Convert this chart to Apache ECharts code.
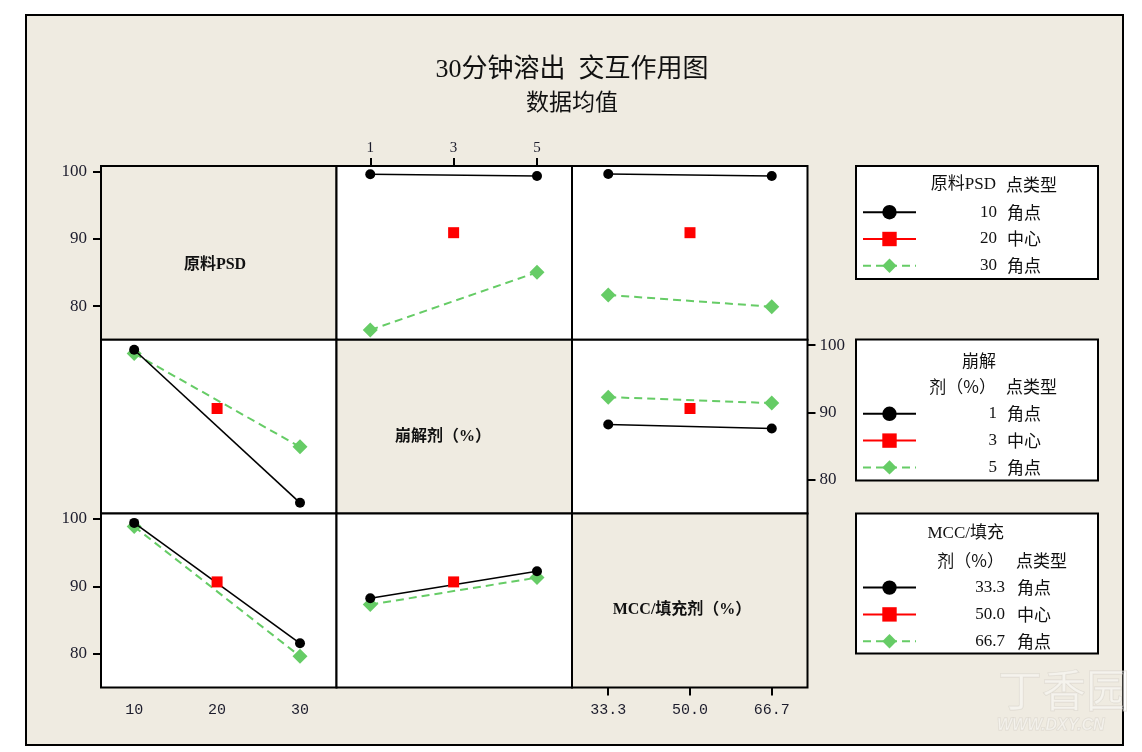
<!DOCTYPE html>
<html><head><meta charset="utf-8">
<script src="https://cdn.jsdelivr.net/npm/echarts@6/dist/echarts.min.js"></script>
<style>html,body{margin:0;padding:0;background:#fff}#c{width:1142px;height:752px}</style>
</head><body><div id="c"></div>
<script>
// ---------- data ----------
const titleText = '30分钟溶出  交互作用图';
const subtitleText = '数据均值';
const factorNames = ['原料PSD', '崩解剂（%）', 'MCC/填充剂（%）'];
const psdLevels = [10, 20, 30];
const disLevels = [1, 3, 5];
const mccLevels = [33.3, 50.0, 66.7];
const pointTypes = ['角点', '中心', '角点'];
const psdTicks = [10, 20, 30];
const disTicks = [1, 3, 5];
const mccTicks = [33.3, 50.0, 66.7];
const yTicks = [80, 90, 100];

// Row 1: lines = 原料PSD levels (10 low, 30 high)
const r1c2Low = [99.57, 99.32];   // vs 崩解剂 1, 5
const r1c2High = [76.45, 85.02];
const r1c3Low = [99.61, 99.32];   // vs MCC 33.3, 66.7
const r1c3High = [81.65, 79.91];
const r1Center = 90.9;
// Row 2: lines = 崩解剂 levels (1 low, 5 high)
const r2c1Low = [99.32, 76.6];    // vs PSD 10, 30
const r2c1High = [98.77, 84.91];
const r2c3Low = [88.23, 87.63];   // vs MCC
const r2c3High = [92.29, 91.4];
const r2Center = 90.6;
// Row 3: lines = MCC levels (33.3 low, 66.7 high)
const r3c1Low = [99.42, 81.55];   // vs PSD
const r3c1High = [98.87, 79.62];
const r3c2Low = [88.23, 92.23];   // vs 崩解剂
const r3c2High = [87.29, 91.3];
const r3Center = 90.66;

// ---------- layout / style ----------
const BEIGE = '#EFEBE1';
const GREEN = '#66CC66';
const SERIF = '"Liberation Serif","Noto Sans CJK SC"';
const CJK = '"Noto Sans CJK SC"';
const colLeft = [101, 336.5, 572], colW = 235.5;
const rowTop = [166, 339.8, 513.6], rowH = 173.8;
const xRange = [[6, 34.4], [0.19, 5.84], [25.9, 74.0]];
const yMin = 75, yMax = 100.8;
const levels = [psdLevels, disLevels, mccLevels];
const ticks = [psdTicks, disTicks, mccTicks];
const levelNames = [
  psdLevels.map(String),
  disLevels.map(String),
  mccLevels.map(v => v.toFixed(1))
];
const panels = {
  '01': [r1c2Low, r1c2High, r1Center],
  '02': [r1c3Low, r1c3High, r1Center],
  '10': [r2c1Low, r2c1High, r2Center],
  '12': [r2c3Low, r2c3High, r2Center],
  '20': [r3c1Low, r3c1High, r3Center],
  '21': [r3c2Low, r3c2High, r3Center]
};

const grid = [], xAxis = [], yAxis = [], series = [];
const tickStyle = {length: 8, lineStyle: {color: '#000', width: 2}};
for (let i = 0; i < 3; i++) {
  for (let j = 0; j < 3; j++) {
    const k = i * 3 + j;
    grid.push({left: colLeft[j], top: rowTop[i], width: colW, height: rowH,
      show: true, backgroundColor: i === j ? BEIGE : '#fff',
      borderColor: '#000', borderWidth: 2, z: 1});
    const xTop = (i === 0 && j === 1);
    const xLab = xTop || (i === 2 && j !== 1);
    const xTick = xTop || (i === 2 && j === 2);
    xAxis.push({type: 'value', gridIndex: k, min: xRange[j][0], max: xRange[j][1],
      position: xTop ? 'top' : 'bottom',
      axisLine: {show: false}, splitLine: {show: false},
      axisTick: Object.assign({show: xTick, customValues: ticks[j]}, tickStyle),
      axisLabel: {show: xLab, customValues: ticks[j], margin: xTop ? 10 : 15,
        color: '#1c1c2c', fontSize: 15,
        fontFamily: j === 1 ? SERIF : '"Liberation Mono"',
        formatter: v => j === 2 ? v.toFixed(1) : String(v)}
    });
    const yRight = (i === 1 && j === 2);
    const yLab = yRight || ((i === 0 || i === 2) && j === 0);
    yAxis.push({type: 'value', gridIndex: k, min: yMin, max: yMax,
      position: yRight ? 'right' : 'left',
      axisLine: {show: false}, splitLine: {show: false},
      axisTick: Object.assign({show: yLab, customValues: yTicks}, tickStyle),
      axisLabel: {show: yLab, customValues: yTicks, margin: yRight ? 12 : 14,
        color: '#1c1c2c', fontSize: 17, fontFamily: SERIF}
    });
    const p = panels['' + i + j];
    if (!p) continue;
    const xl = levels[j];
    const names = levelNames[i];
    series.push({type: 'line', name: names[0], xAxisIndex: k, yAxisIndex: k,
      data: [[xl[0], p[0][0]], [xl[2], p[0][1]]],
      symbol: 'circle', symbolSize: 10, z: 4,
      itemStyle: {color: '#000'}, lineStyle: {color: '#000', width: 1.6}});
    series.push({type: 'line', name: names[1], xAxisIndex: k, yAxisIndex: k,
      data: [[xl[1], p[2]]],
      symbol: 'rect', symbolSize: 11, z: 4,
      itemStyle: {color: '#FF0000'}, lineStyle: {color: '#FF0000', width: 2}});
    series.push({type: 'line', name: names[2], xAxisIndex: k, yAxisIndex: k,
      data: [[xl[0], p[1][0]], [xl[2], p[1][1]]],
      symbol: 'diamond', symbolSize: 15, z: 3,
      itemStyle: {color: GREEN}, lineStyle: {color: GREEN, width: 2, type: [8, 5]}});
  }
}

// legends (values right-aligned by measuring their width)
const mctx = document.createElement('canvas').getContext('2d');
mctx.font = '17px "Liberation Serif"';
const legTop = [202.2, 403.8, 577.6];
const legValW = [76, 76, 84];
const legPad = [10, 10, 12];
const legend = [0, 1, 2].map(i => {
  const rich = {t: {padding: [0, 0, 0, legPad[i]], fontSize: 17, lineHeight: 20, fontFamily: CJK, color: '#111'}};
  levelNames[i].forEach((name, n) => {
    const w = mctx.measureText(name).width;
    rich['v' + n] = {padding: [0, 0, 0, Math.max(0, legValW[i] - w)],
      fontSize: 17, lineHeight: 20, fontFamily: SERIF, color: '#111'};
  });
  return {
    orient: 'vertical', left: 862, top: legTop[i], padding: 0,
    itemWidth: 53, itemHeight: 18, itemGap: 6.8, selectedMode: false, z: 6,
    data: levelNames[i],
    formatter: name => {
      const n = levelNames[i].indexOf(name);
      return '{v' + n + '|' + name + '}{t|' + pointTypes[n] + '}';
    },
    textStyle: {fontSize: 17, lineHeight: 20, color: '#111', fontFamily: SERIF, rich: rich}
  };
});

function txt(text, x, y, font, align) {
  return {type: 'text', z: 20, style: {text: text, x: x, y: y,
    font: font, fill: '#111', align: align || 'center', verticalAlign: 'middle'}};
}
const F17 = '17px ' + SERIF, C17 = '17px ' + CJK, DIAG = 'bold 16px ' + SERIF;
const graphic = [
  {type: 'rect', z: -10, shape: {x: 26, y: 15, width: 1097, height: 730},
    style: {fill: BEIGE, stroke: '#000', lineWidth: 2}},
  txt(titleText, 572, 70, '26px ' + SERIF),
  txt(subtitleText, 572, 101, '23px ' + CJK),
  txt(factorNames[0], 215, 265, DIAG),
  txt(factorNames[1], 443, 437, DIAG),
  txt(factorNames[2], 682, 610, DIAG),
  // legend boxes
  {type: 'rect', z: 2, shape: {x: 856, y: 166, width: 242, height: 113}, style: {fill: '#fff', stroke: '#000', lineWidth: 2}},
  {type: 'rect', z: 2, shape: {x: 856, y: 339.5, width: 242, height: 141}, style: {fill: '#fff', stroke: '#000', lineWidth: 2}},
  {type: 'rect', z: 2, shape: {x: 856, y: 513.5, width: 242, height: 140}, style: {fill: '#fff', stroke: '#000', lineWidth: 2}},
  txt('原料PSD', 996, 185, F17, 'right'),
  txt('点类型', 1006, 185, C17, 'left'),
  txt('崩解', 996, 361, C17, 'right'),
  txt('剂（%）', 996, 387, C17, 'right'),
  txt('点类型', 1006, 387, C17, 'left'),
  txt('MCC/填充', 1004, 534, F17, 'right'),
  txt('剂（%）', 1004, 561, C17, 'right'),
  txt('点类型', 1016, 561, C17, 'left'),
  // watermark
  {type: 'text', z: 0, style: {text: '丁香园', x: 998, y: 690, font: '44px ' + CJK,
    fill: 'rgba(255,255,255,0.4)', stroke: 'rgba(210,205,195,0.6)', lineWidth: 1,
    align: 'left', verticalAlign: 'middle'}},
  {type: 'text', z: 0, style: {text: 'WWW.DXY.CN', x: 997, y: 726, font: 'italic bold 16px "Liberation Sans"',
    fill: 'rgba(255,255,255,0.4)', stroke: 'rgba(210,205,195,0.6)', lineWidth: 1,
    align: 'left', verticalAlign: 'middle'}}
];

const chart = echarts.init(document.getElementById('c'), null, {renderer: 'canvas'});
chart.setOption({
  backgroundColor: '#fff', animation: false,
  grid, xAxis, yAxis, series, legend, graphic
});
</script></body></html>
